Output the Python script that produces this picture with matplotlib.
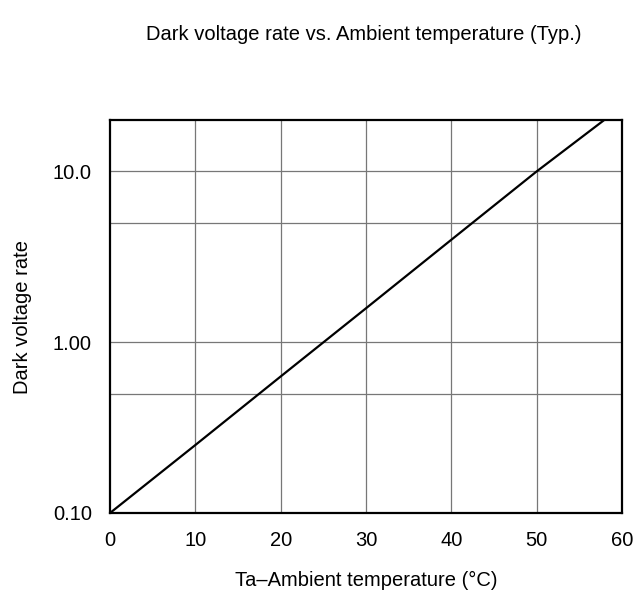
import numpy as np
import matplotlib
matplotlib.use("Agg")
import matplotlib.pyplot as plt
from matplotlib.ticker import FixedLocator, NullLocator

plt.rcParams['font.family'] = ['Liberation Sans', 'DejaVu Sans']

# line (log scale, clipped at the top of the frame)
temp_c = [0, 10, 20, 30, 40, 50, 58.2]
dark_rate = [0.10, 0.25, 0.63, 1.58, 3.98, 10.0, 20.5]

x_ticks = [0, 10, 20, 30, 40, 50, 60]
y_ticks = [0.1, 1.0, 10.0]
y_tick_labels = ["0.10", "1.00", "10.0"]
y_grid = [0.5, 1.0, 5.0, 10.0]

fig = plt.figure(figsize=(6.36, 5.91), dpi=100)
ax = fig.add_axes([110 / 636, 1 - 513 / 591, 512 / 636, 393 / 591])

ax.plot(temp_c, dark_rate, color='black', linewidth=1.6, clip_on=True)

ax.set_yscale('log')
ax.set_xlim(0, 60)
ax.set_ylim(0.1, 20)

ax.xaxis.set_major_locator(FixedLocator(x_ticks))
ax.yaxis.set_major_locator(FixedLocator(y_ticks))
ax.yaxis.set_minor_locator(NullLocator())
ax.set_yticklabels(y_tick_labels)
ax.tick_params(axis='both', length=0, labelsize=14.5)
ax.tick_params(axis='x', pad=13)
ax.tick_params(axis='y', pad=13)

for xv in x_ticks[1:-1]:
    ax.axvline(xv, color='#777777', linewidth=0.9, zorder=0)
for yv in y_grid:
    ax.axhline(yv, color='#777777', linewidth=0.9, zorder=0)

for s in ax.spines.values():
    s.set_linewidth(1.6)
    s.set_color('black')

ax.set_xlabel("Ta\u2013Ambient temperature (\u00b0C)", fontsize=14.5, labelpad=15)
ax.set_ylabel("Dark voltage rate", fontsize=14.5, labelpad=15)
fig.text(364 / 636, 1 - 34 / 591, "Dark voltage rate vs. Ambient temperature (Typ.)",
         ha='center', va='center', fontsize=14.5)

fig.savefig("out.png", dpi=100)
